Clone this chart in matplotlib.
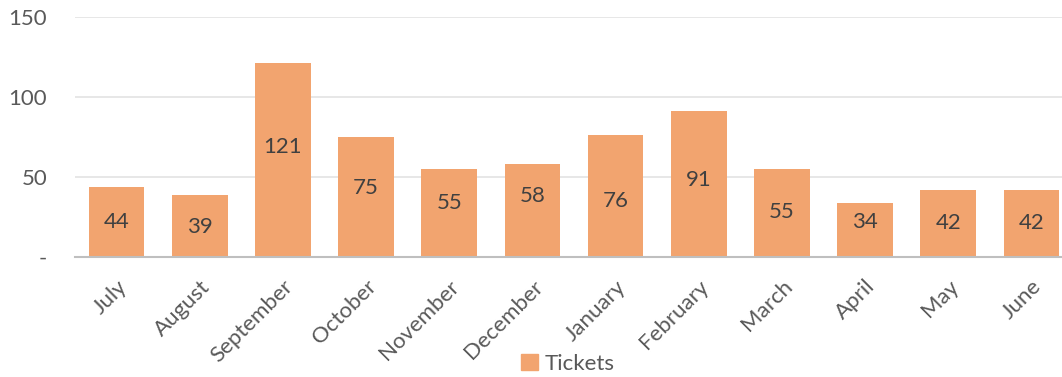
import matplotlib.pyplot as plt
from matplotlib.patches import Patch

# Tickets per month
meses = ["July", "August", "September", "October", "November", "December",
         "January", "February", "March", "April", "May", "June"]
tickets = [44, 39, 121, 75, 55, 58, 76, 91, 55, 34, 42, 42]
# height of each value label inside its bar
altura_etiqueta = [22, 19, 69, 43, 34, 38, 35, 48, 28, 22, 21, 21]
y_ticks = [0, 50, 100, 150]
y_labels = ["-", "50", "100", "150"]

plt.rcParams["font.family"] = ["Lato", "DejaVu Sans"]
gris = "#595959"
naranja = "#F2A46F"

fig = plt.figure(figsize=(10.62, 3.77), dpi=100)
ax = fig.add_axes([75 / 1062, 1 - 257 / 377, 998 / 1062, 240 / 377])

x = range(len(meses))
ax.bar(x, tickets, width=0.67, color=naranja, zorder=2)
for i, v in enumerate(tickets):
    ax.text(i, altura_etiqueta[i], str(v), ha="center", va="center",
            fontsize=16, color="#404040", zorder=3)

ax.set_xlim(-0.5, 11.5)
ax.set_ylim(0, 150)
ax.set_yticks(y_ticks)
ax.set_yticklabels(y_labels, fontsize=16, color=gris)
ax.set_xticks(list(x))
ax.set_xticklabels(meses, rotation=45, ha="right", rotation_mode="anchor",
                   fontsize=16, color=gris)
ax.tick_params(axis="both", length=0)
ax.tick_params(axis="y", pad=20)
ax.tick_params(axis="x", pad=14)

ax.grid(axis="y", color="#E3E3E3", linewidth=1.2, zorder=0)
for lado in ["top", "right", "left"]:
    ax.spines[lado].set_visible(False)
ax.spines["bottom"].set_color("#BFBFBF")
ax.spines["bottom"].set_linewidth(1.5)
ax.spines["bottom"].set_zorder(3)

fig.legend(handles=[Patch(color=naranja, label="Tickets")],
           loc="center", bbox_to_anchor=(568 / 1062, 1 - 364 / 377),
           frameon=False, fontsize=16, handlelength=0.75, handleheight=0.75,
           handletextpad=0.3, labelcolor=gris)

fig.savefig("out.png", dpi=100)
